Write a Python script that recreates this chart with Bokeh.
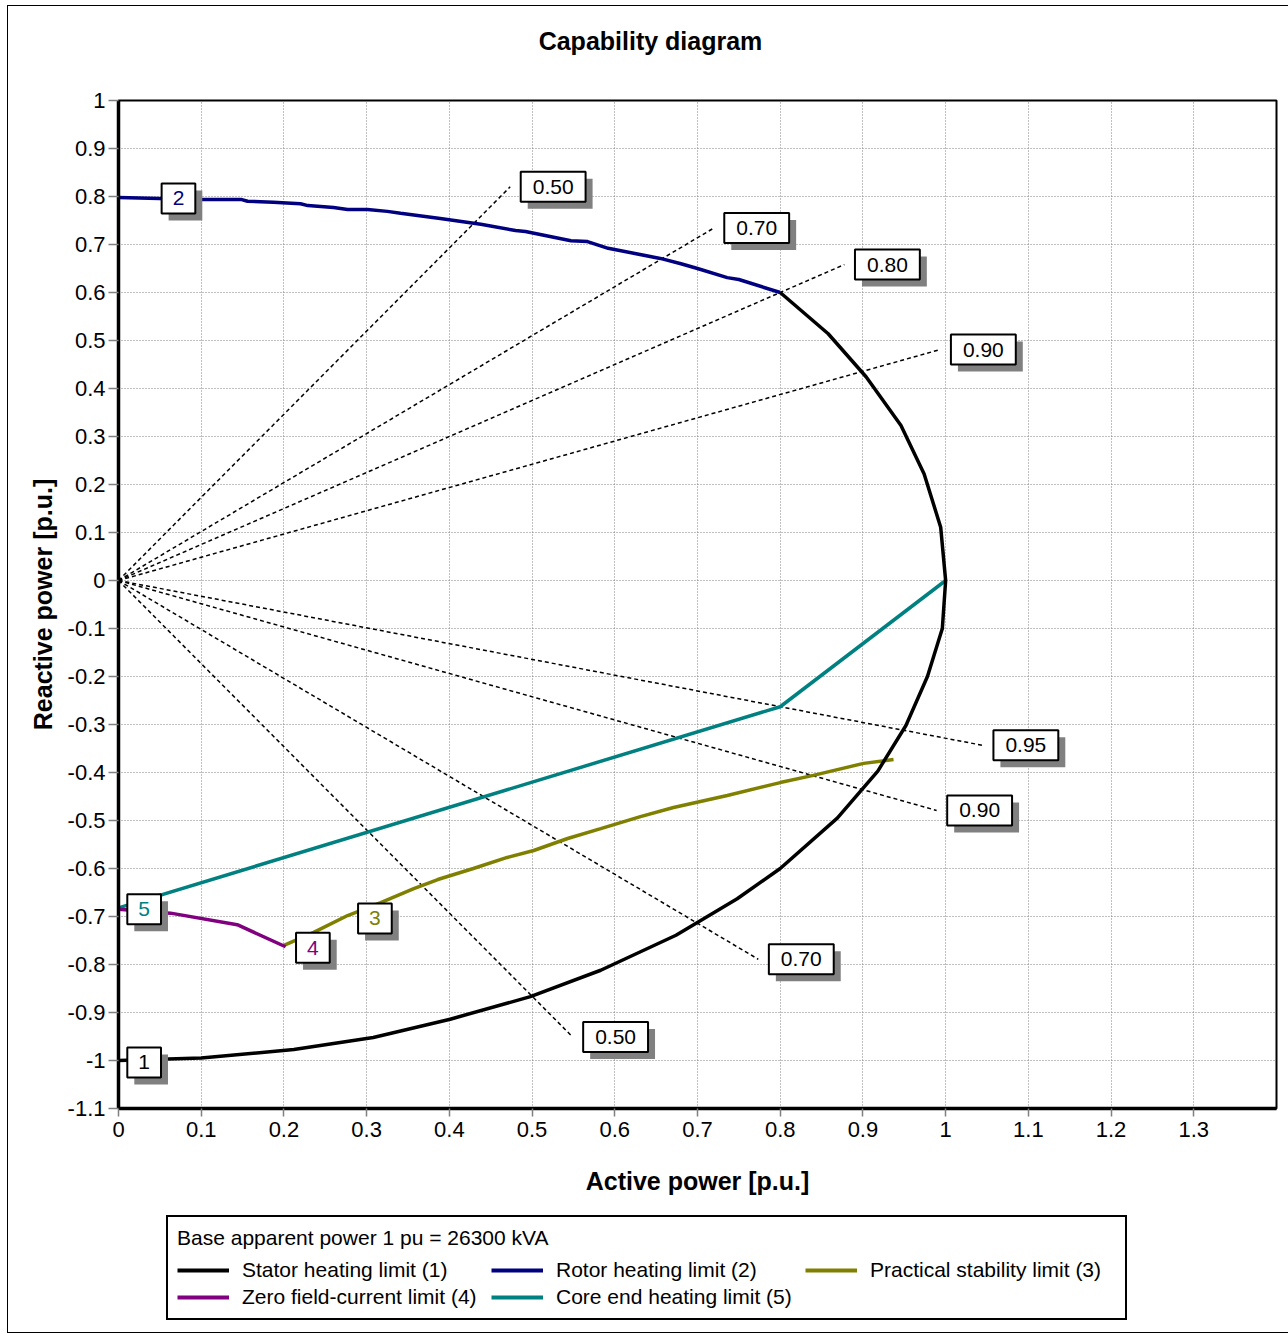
import numpy as np
from bokeh.plotting import figure
from bokeh.layouts import column
from bokeh.models import (Range1d, FixedTicker, CustomJSTickFormatter, Label, Legend,
                          LegendItem)
from bokeh.embed import file_html
from bokeh.resources import INLINE

# ---------------- data (p.u.) ----------------
stator_p = [0.0, 0.10, 0.212, 0.308, 0.401, 0.498, 0.583, 0.674, 0.748, 0.800, 0.869, 0.918,
            0.952, 0.978, 0.996, 1.000, 0.994, 0.974, 0.946, 0.904, 0.858, 0.800]
stator_q = [-1.0, -0.995, -0.977, -0.952, -0.914, -0.867, -0.812, -0.739, -0.663, -0.600, -0.495,
            -0.397, -0.302, -0.200, -0.100, 0.0, 0.111, 0.222, 0.323, 0.424, 0.514, 0.600]

rotor_p = [0.0, 0.099, 0.148, 0.156, 0.187, 0.220, 0.229, 0.260, 0.277, 0.301, 0.325, 0.341,
           0.389, 0.438, 0.480, 0.492, 0.547, 0.567, 0.592, 0.655, 0.680, 0.700, 0.736, 0.750, 0.800]
rotor_q = [0.798, 0.794, 0.794, 0.790, 0.788, 0.785, 0.781, 0.777, 0.773, 0.773, 0.769, 0.765,
           0.754, 0.742, 0.729, 0.727, 0.708, 0.706, 0.692, 0.671, 0.660, 0.650, 0.631, 0.627, 0.600]

stability_p = [0.200, 0.236, 0.277, 0.317, 0.357, 0.386, 0.429, 0.470, 0.502, 0.543, 0.583,
               0.631, 0.671, 0.736, 0.800, 0.840, 0.901, 0.937]
stability_q = [-0.760, -0.733, -0.698, -0.671, -0.642, -0.623, -0.600, -0.577, -0.5625, -0.5375,
               -0.517, -0.492, -0.473, -0.448, -0.421, -0.406, -0.381, -0.373]

zero_field_p = [0.0, 0.063, 0.1435, 0.202]
zero_field_q = [-0.685, -0.693, -0.717, -0.763]

core_end_p = [0.0, 0.800, 1.000]
core_end_q = [-0.682, -0.263, 0.0]

# power-factor guide lines: pf value, sign of Q, reach (radius) of the dashed line
pf_values = [0.50, 0.70, 0.80, 0.90, 0.95, 0.90, 0.70, 0.50]
pf_sign = [1, 1, 1, 1, -1, -1, -1, -1]
pf_reach = [0.947, 1.028, 1.097, 1.104, 1.100, 1.099, 1.105, 1.098]

# curve number tags
tag_text = ["1", "2", "3", "4", "5"]
tag_p = [0.031, 0.0725, 0.310, 0.235, 0.031]
tag_q = [-1.004, 0.796, -0.704, -0.765, -0.685]

x_ticks = [0.0, 0.1, 0.2, 0.3, 0.4, 0.5, 0.6, 0.7, 0.8, 0.9, 1.0, 1.1, 1.2, 1.3]
y_ticks = [1.0, 0.9, 0.8, 0.7, 0.6, 0.5, 0.4, 0.3, 0.2, 0.1, 0.0, -0.1, -0.2, -0.3, -0.4,
           -0.5, -0.6, -0.7, -0.8, -0.9, -1.0, -1.1]

series_names = ["Stator heating limit (1)", "Rotor heating limit (2)", "Practical stability limit (3)",
                "Zero field-current limit (4)", "Core end heating limit (5)"]
series_colors = ["#000000", "#000080", "#808000", "#800080", "#008080"]
series_p = [stator_p, rotor_p, stability_p, zero_field_p, core_end_p]
series_q = [stator_q, rotor_q, stability_q, zero_field_q, core_end_q]

TITLE = "Capability diagram"
LEGEND_TITLE = "Base apparent power 1 pu = 26300 kVA"
FONT = "Liberation Sans"
W = 1280

# ---------------- header (title) ----------------
head = figure(width=W, height=82, frame_width=W, frame_height=82,
              min_border_left=0, min_border_right=0, min_border_top=0, min_border_bottom=0,
              x_range=Range1d(0, W), y_range=Range1d(0, 82), x_axis_type=None, y_axis_type=None,
              output_backend="svg", toolbar_location=None)
head.grid.visible = False
head.outline_line_color = None
head.add_layout(Label(x=532, y=48, text=TITLE, text_font=FONT, text_font_size="25px",
                      text_font_style="bold", text_color="black",
                      text_align="center", text_baseline="middle"))

# ---------------- main plot ----------------
p = figure(frame_width=1158, frame_height=1008, width=W, height=1120,
           min_border_left=110, min_border_right=12, min_border_top=12, min_border_bottom=100,
           x_range=Range1d(0, 1.4), y_range=Range1d(-1.1, 1.0),
           output_backend="svg", toolbar_location=None)
p.background_fill_color = "white"
p.border_fill_color = "white"
p.outline_line_color = "black"
p.outline_line_width = 2

fmt = CustomJSTickFormatter(code="return tick.toFixed(1).replace(/\\.0$/, '');")
for ax, ticks in ((p.xaxis[0], x_ticks), (p.yaxis[0], y_ticks)):
    ax.ticker = FixedTicker(ticks=ticks)
    ax.formatter = fmt
    ax.minor_tick_line_color = None
    ax.major_tick_line_color = "#808080"
    ax.major_tick_line_width = 1.5
    ax.major_tick_in = 0
    ax.axis_line_color = "black"
    ax.axis_line_width = 3.5
    ax.major_label_text_font = FONT
    ax.major_label_text_font_size = "22px"
    ax.major_label_text_color = "black"
    ax.axis_label_text_font = FONT
    ax.axis_label_text_font_style = "bold"
    ax.axis_label_text_font_size = "25px"
    ax.axis_label_text_color = "black"

p.xaxis.major_tick_out = 8
p.xaxis.major_label_standoff = 5
p.xaxis.axis_label = "Active power [p.u.]"
p.xaxis.axis_label_standoff = 27
p.yaxis.major_tick_out = 10
p.yaxis.major_label_standoff = 3
p.yaxis.axis_label = "Reactive power [p.u.]"
p.yaxis.axis_label_standoff = 8

p.grid.grid_line_color = "#808080"
p.grid.grid_line_dash = "1 2"
p.grid.grid_line_width = 1

# power factor dashed lines
pf_arr = np.array(pf_values)
reach = np.array(pf_reach)
x_end = reach * pf_arr
y_end = np.array(pf_sign) * reach * np.sqrt(1 - pf_arr ** 2)
p.segment(x0=[0] * len(pf_values), y0=[0] * len(pf_values), x1=x_end, y1=y_end,
          line_color="black", line_width=1.5, line_dash="4 3")

# curves (drawn back to front: 5, 3, 4, 2, 1)
for i in (4, 2, 3, 1, 0):
    p.line(series_p[i], series_q[i], line_color=series_colors[i], line_width=3.5)


def boxed_label(x, y, text, color, xo, pad_lr):
    pad = dict(left=pad_lr, right=pad_lr, top=8, bottom=8)
    shadow = Label(x=x, y=y, text=text, x_offset=xo + 7, y_offset=-7,
                   text_font=FONT, text_font_size="21px", text_color="#808080",
                   text_align="center", text_baseline="middle",
                   background_fill_color="#808080", border_line_color=None, padding=pad)
    main = Label(x=x, y=y, text=text, x_offset=xo, y_offset=0,
                 text_font=FONT, text_font_size="21px", text_color=color,
                 text_align="center", text_baseline="middle",
                 background_fill_color="white", border_line_color="black",
                 border_line_width=2, padding=pad)
    p.add_layout(shadow)
    p.add_layout(main)


for xe, ye, pf in zip(x_end, y_end, pf_values):
    boxed_label(float(xe), float(ye), f"{pf:.2f}", "black", 43, 12)

for t, xp, yq, c in zip(tag_text, tag_p, tag_q, series_colors):
    boxed_label(xp, yq, t, c, 0, 11)

# ---------------- footer (legend) ----------------
# the footer's ranges lie away from the data, so its copies of the series only feed the legend
foot = figure(width=W, height=124, frame_width=W, frame_height=124,
              min_border_left=0, min_border_right=0, min_border_top=0, min_border_bottom=0,
              x_range=Range1d(10, 11), y_range=Range1d(10, 11), x_axis_type=None, y_axis_type=None,
              output_backend="svg", toolbar_location=None)
foot.grid.visible = False
foot.outline_line_color = None
legend_renderers = [foot.line(xs, ys, line_color=c, line_width=4)
                    for xs, ys, c in zip(series_p, series_q, series_colors)]
legend = Legend(items=[LegendItem(label=n, renderers=[r]) for n, r in zip(series_names, legend_renderers)],
                location=(158, 12), orientation="horizontal", ncols=3,
                title=LEGEND_TITLE,
                title_text_font=FONT, title_text_font_size="21px", title_text_font_style="normal",
                title_text_color="black", title_standoff=8,
                label_text_font=FONT, label_text_font_size="21px", label_text_color="black",
                glyph_width=52, glyph_height=20, label_standoff=13, label_width=246,
                spacing=3, padding=9, margin=0,
                border_line_color="black", border_line_width=2, border_line_alpha=1.0,
                background_fill_color="white", background_fill_alpha=1.0)
foot.add_layout(legend)

layout = column(head, p, foot, spacing=0, margin=(5, 0, 0, 7),
                styles={"border": "1px solid black"})

open("out.html", "w").write(file_html(layout, INLINE))
